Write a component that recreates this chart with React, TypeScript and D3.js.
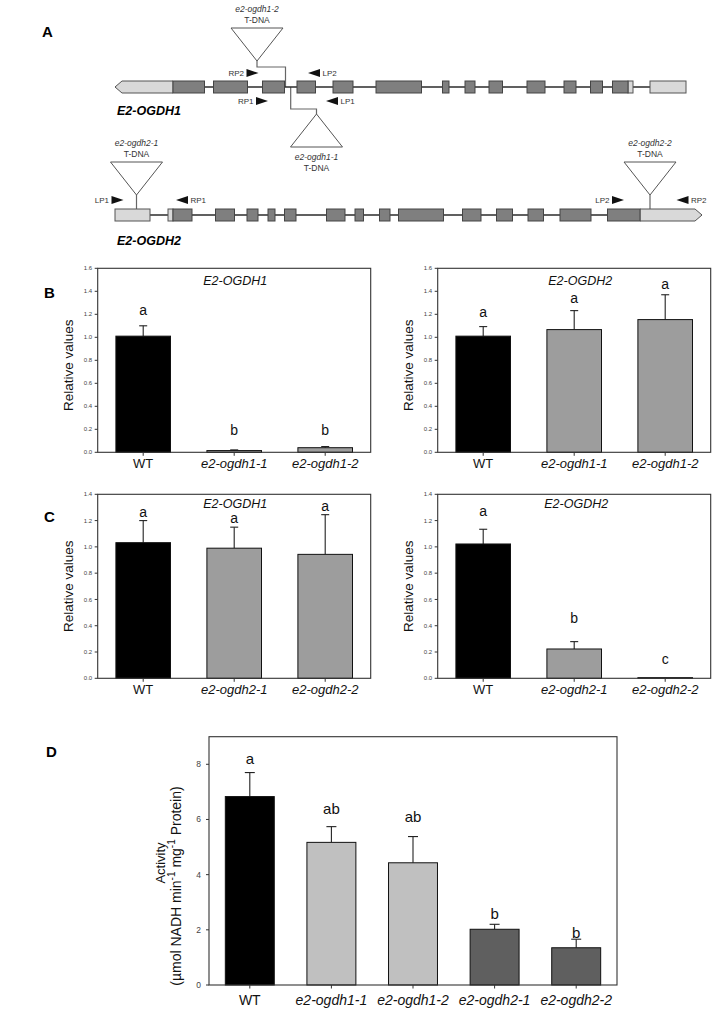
import * as d3 from 'd3'

const W = 726, H = 1019
const FONT = '"Liberation Sans", Arial, Helvetica, sans-serif'

// ---- panel A: gene models, positions in map units along the locus ----
const gene1Span = [15, 586]
const gene1Utr5 = [15, 73]            // drawn as left-pointing arrow
const gene1Exons = [[73, 104.5], [113.5, 147.5], [162.5, 184.5], [197, 215.5], [233, 253], [276, 321.5], [342.5, 349], [365, 375], [389, 402.5], [427, 445], [464, 476], [490.5, 502.5], [512.5, 528]]
const gene1Utr3 = [[528, 533], [550, 586]]
const gene2Span = [15, 602]
const gene2Utr5 = [[15, 50], [68, 73]]
const gene2Exons = [[73, 92], [115.5, 134.5], [147, 158], [168, 175], [184.5, 196], [226.5, 245], [255, 263.5], [279.5, 290], [298.5, 343.5], [362.5, 381], [396.5, 412.5], [428, 443.5], [460, 491], [507.5, 540]]
const gene2Utr3 = [540, 602]          // drawn as right-pointing arrow

const primerNames1 = ['RP2', 'LP2', 'RP1', 'LP1']
const primerPos1 = [152.5, 214, 162, 232]
const primerDir1 = [1, -1, 1, -1]
const primerRow1 = [-1, -1, 1, 1]
const primerNames2 = ['LP1', 'RP1', 'LP2', 'RP2']
const primerPos2 = [17.5, 82, 518, 582.5]
const primerDir2 = [1, -1, 1, -1]

const tdnaNames1 = ['e2-ogdh1-2', 'e2-ogdh1-1']
const tdnaSite1 = [185.5, 190.7]
const tdnaApex1 = [157, 216.5]
const tdnaNames2 = ['e2-ogdh2-1', 'e2-ogdh2-2']
const tdnaSite2 = [36.5, 550]

// ---- panels B/C: qRT-PCR ----
const catsB = ['WT', 'e2-ogdh1-1', 'e2-ogdh1-2']
const catsC = ['WT', 'e2-ogdh2-1', 'e2-ogdh2-2']
const bLeftMean = [1.01, 0.015, 0.04]
const bLeftErr = [0.09, 0.006, 0.01]
const bLeftLetters = ['a', 'b', 'b']
const bLeftLetterAt = [1.19, 0.15, 0.15]
const bRightMean = [1.01, 1.067, 1.154]
const bRightErr = [0.083, 0.165, 0.216]
const bRightLetters = ['a', 'a', 'a']
const bRightLetterAt = [1.18, 1.3, 1.42]
const cLeftMean = [1.032, 0.99, 0.943]
const cLeftErr = [0.168, 0.16, 0.302]
const cLeftLetters = ['a', 'a', 'a']
const cLeftLetterAt = [1.23, 1.184, 1.27]
const cRightMean = [1.022, 0.223, 0.005]
const cRightErr = [0.112, 0.056, 0]
const cRightLetters = ['a', 'b', 'c']
const cRightLetterAt = [1.235, 0.42, 0.11]
const ticksB = [0, 0.2, 0.4, 0.6, 0.8, 1.0, 1.2, 1.4, 1.6]
const ticksC = [0, 0.2, 0.4, 0.6, 0.8, 1.0, 1.2, 1.4]
const colorsBC = ['#000000', '#9d9d9d', '#9d9d9d']

// ---- panel D: enzyme activity ----
const catsD = ['WT', 'e2-ogdh1-1', 'e2-ogdh1-2', 'e2-ogdh2-1', 'e2-ogdh2-2']
const dMean = [6.83, 5.17, 4.43, 2.02, 1.35]
const dErr = [0.87, 0.57, 0.95, 0.18, 0.31]
const dLetters = ['a', 'ab', 'ab', 'b', 'b']
const dLetterAt = [8.0, 6.2, 5.9, 2.4, 1.72]
const ticksD = [0, 2, 4, 6, 8]
const colorsD = ['#000000', '#c0c0c0', '#c0c0c0', '#5f5f5f', '#5f5f5f']

const xg = d3.scaleLinear().domain([0, 600]).range([100, 700])

function Gene({ y, span, exons, utrBoxes, arrowUtr, arrowDir }: any) {
  const h = 6
  const [a, b] = arrowUtr
  const tip = 7
  const arrowPath = arrowDir < 0
    ? `M${xg(a)},${y} L${xg(a) + tip},${y - h} L${xg(b)},${y - h} L${xg(b)},${y + h} L${xg(a) + tip},${y + h} Z`
    : `M${xg(a)},${y - h} L${xg(b) - tip},${y - h} L${xg(b)},${y} L${xg(b) - tip},${y + h} L${xg(a)},${y + h} Z`
  return (
    <g>
      <line x1={xg(span[0])} x2={xg(span[1])} y1={y} y2={y} stroke="#2b2b2b" strokeWidth={1.4} />
      <path d={arrowPath} fill="#d9d9d9" stroke="#555" strokeWidth={1} />
      {utrBoxes.map((e: number[], i: number) => (
        <rect key={'u' + i} x={xg(e[0])} y={y - h} width={xg(e[1]) - xg(e[0])} height={2 * h} fill="#d9d9d9" stroke="#555" strokeWidth={1} />
      ))}
      {exons.map((e: number[], i: number) => (
        <rect key={i} x={xg(e[0])} y={y - h} width={xg(e[1]) - xg(e[0])} height={2 * h} fill="#7f7f7f" stroke="#444" strokeWidth={1} />
      ))}
    </g>
  )
}

function Primer({ name, pos, dir, y }: any) {
  const cx = xg(pos)
  const path = dir > 0
    ? `M${cx - 6},${y - 4} L${cx + 6},${y} L${cx - 6},${y + 4} Z`
    : `M${cx + 6},${y - 4} L${cx - 6},${y} L${cx + 6},${y + 4} Z`
  return (
    <g>
      <path d={path} fill="#111" />
      <text x={dir > 0 ? cx - 8.5 : cx + 8.5} y={y + 3} textAnchor={dir > 0 ? 'end' : 'start'}
        fontSize={8} fill="#333" fontFamily={FONT}>{name}</text>
    </g>
  )
}

function Tdna({ name, apexX, apexY, up }: any) {
  const hw = 26, th = 33
  const baseY = up ? apexY + th : apexY - th
  const labelY = up ? baseY + 13 : baseY - 16
  return (
    <g>
      <path d={`M${apexX},${apexY} L${apexX - hw},${baseY} L${apexX + hw},${baseY} Z`} fill="#fff" stroke="#555" strokeWidth={1} />
      <text x={apexX} y={labelY} textAnchor="middle" fontSize={8.5} fontStyle="italic" fill="#333" fontFamily={FONT}>{name}</text>
      <text x={apexX} y={labelY + 11} textAnchor="middle" fontSize={8.5} fill="#333" fontFamily={FONT}>T-DNA</text>
    </g>
  )
}

function PanelA() {
  const y1 = 87, y2 = 215
  const conn = '#666'
  return (
    <g>
      <text x={42} y={37} fontSize={15} fontWeight="bold" fontFamily={FONT}>A</text>
      {/* upper insertion of gene 1 */}
      <Tdna name={tdnaNames1[0]} apexX={xg(tdnaApex1[0])} apexY={61} up={false} />
      <path d={`M${xg(tdnaApex1[0])},61 V67 H${xg(tdnaSite1[0])} V${y1}`} fill="none" stroke={conn} strokeWidth={1.2} />
      {/* lower insertion of gene 1 */}
      <path d={`M${xg(tdnaSite1[1])},${y1} V109 H${xg(tdnaApex1[1])} V114`} fill="none" stroke={conn} strokeWidth={1.2} />
      <Tdna name={tdnaNames1[1]} apexX={xg(tdnaApex1[1])} apexY={114} up={true} />
      <Gene y={y1} span={gene1Span} exons={gene1Exons} utrBoxes={gene1Utr3} arrowUtr={gene1Utr5} arrowDir={-1} />
      {primerNames1.map((n, i) => (
        <Primer key={n} name={n} pos={primerPos1[i]} dir={primerDir1[i]} y={primerRow1[i] < 0 ? 73 : 101} />
      ))}
      <text x={117} y={115} fontSize={12.5} fontWeight="bold" fontStyle="italic" fontFamily={FONT}>E2-OGDH1</text>

      {tdnaNames2.map((n, i) => (
        <g key={n}>
          <line x1={xg(tdnaSite2[i])} x2={xg(tdnaSite2[i])} y1={195} y2={y2 - 6} stroke={conn} strokeWidth={1.2} />
          <Tdna name={n} apexX={xg(tdnaSite2[i])} apexY={195} up={false} />
        </g>
      ))}
      <Gene y={y2} span={gene2Span} exons={gene2Exons} utrBoxes={gene2Utr5} arrowUtr={gene2Utr3} arrowDir={1} />
      {primerNames2.map((n, i) => (
        <Primer key={n + i} name={n} pos={primerPos2[i]} dir={primerDir2[i]} y={200} />
      ))}
      <text x={117} y={245} fontSize={12.5} fontWeight="bold" fontStyle="italic" fontFamily={FONT}>E2-OGDH2</text>
    </g>
  )
}

function BarPanel(p: any) {
  const x = d3.scaleBand().domain(p.cats).range([p.x0, p.x1]).paddingInner(0.4).paddingOuter(0.2)
  const y = d3.scaleLinear().domain([0, p.max]).range([p.yZero, p.yTop])
  const bw = x.bandwidth()
  const fs = p.fontSize
  return (
    <g fontFamily={FONT}>
      {p.cats.map((c: string, i: number) => {
        const cx = (x(c) as number) + bw / 2
        const top = y(p.mean[i])
        const etop = y(p.mean[i] + p.err[i])
        return (
          <g key={c}>
            {p.err[i] > 0 && (
              <g stroke="#222" strokeWidth={1.1}>
                <line x1={cx} x2={cx} y1={top} y2={etop} />
                <line x1={cx - p.cap / 2} x2={cx + p.cap / 2} y1={etop} y2={etop} />
              </g>
            )}
            <rect x={x(c)} y={top} width={bw} height={p.yZero - top} fill={p.colors[i]} stroke="#111" strokeWidth={1} />
            <text x={cx} y={y(p.letterAt[i])} textAnchor="middle" fontSize={p.letterSize} fill="#111">{p.letters[i]}</text>
            <line x1={cx} x2={cx} y1={p.yZero} y2={p.yZero + 3.5} stroke="#333" />
            <text x={cx} y={p.yZero + p.labelDy} textAnchor="middle" fontSize={fs}
              fontStyle={c === 'WT' ? 'normal' : 'italic'} fill="#111">{c}</text>
          </g>
        )
      })}
      <rect x={p.x0} y={p.yTop} width={p.x1 - p.x0} height={p.yZero - p.yTop} fill="none" stroke="#333" strokeWidth={1.1} />
      {p.ticks.map((t: number) => (
        <g key={t}>
          <line x1={p.x0 - 3} x2={p.x0} y1={y(t)} y2={y(t)} stroke="#333" />
          <text x={p.x0 - p.tickGap} y={y(t) + p.tickSize * 0.35} textAnchor="end" fontSize={p.tickSize} fill="#444">
            {d3.format(p.tickFmt)(t)}
          </text>
        </g>
      ))}
      {p.title && (
        <text x={(p.x0 + p.x1) / 2 + p.titleDx} y={p.yTop + p.titleDy} textAnchor="middle" fontSize={12.5} fontStyle="italic" fill="#111">{p.title}</text>
      )}
      {p.yTitle && (
        <text transform={`translate(${p.yTitleX},${(p.yTop + p.yZero) / 2 + p.yTitleDy}) rotate(-90)`} textAnchor="middle" fontSize={13.5} fill="#111">{p.yTitle}</text>
      )}
    </g>
  )
}

export default function App() {
  const common = { fontSize: 13, letterSize: 14, cap: 8, labelDy: 16, tickSize: 6, tickGap: 5.5, tickFmt: '.1f' }
  return (
    <svg width={W} height={H} viewBox={`0 0 ${W} ${H}`} style={{ position: 'absolute', left: 0, top: 0, background: '#fff' }}>
      <rect width={W} height={H} fill="#fff" />
      <PanelA />

      <text x={44} y={298} fontSize={15} fontWeight="bold" fontFamily={FONT}>B</text>
      <BarPanel {...common} cats={catsB} mean={bLeftMean} err={bLeftErr} letters={bLeftLetters} letterAt={bLeftLetterAt}
        colors={colorsBC} x0={97.7} x1={370.7} yTop={268.3} yZero={452.3} max={1.6} ticks={ticksB}
        title="E2-OGDH1" titleDx={1} titleDy={16.5} yTitle="Relative values" yTitleX={73} yTitleDy={5} />
      <BarPanel {...common} cats={catsB} mean={bRightMean} err={bRightErr} letters={bRightLetters} letterAt={bRightLetterAt}
        colors={colorsBC} x0={437.7} x1={710.7} yTop={268.3} yZero={452.3} max={1.6} ticks={ticksB}
        title="E2-OGDH2" titleDx={6} titleDy={16.5} yTitle="Relative values" yTitleX={412.5} yTitleDy={5} />

      <text x={44} y={522} fontSize={15} fontWeight="bold" fontFamily={FONT}>C</text>
      <BarPanel {...common} cats={catsC} mean={cLeftMean} err={cLeftErr} letters={cLeftLetters} letterAt={cLeftLetterAt}
        colors={colorsBC} x0={97.7} x1={370.7} yTop={494.3} yZero={678.3} max={1.4} ticks={ticksC}
        title="E2-OGDH1" titleDx={1} titleDy={14} yTitle="Relative values" yTitleX={73} yTitleDy={0} />
      <BarPanel {...common} cats={catsC} mean={cRightMean} err={cRightErr} letters={cRightLetters} letterAt={cRightLetterAt}
        colors={colorsBC} x0={437.7} x1={710.7} yTop={494.3} yZero={678.3} max={1.4} ticks={ticksC}
        title="E2-OGDH2" titleDx={2} titleDy={14} yTitle="Relative values" yTitleX={412.5} yTitleDy={0} />

      <text x={46} y={757} fontSize={15} fontWeight="bold" fontFamily={FONT}>D</text>
      <BarPanel fontSize={14} letterSize={15} cap={10} labelDy={20} tickSize={8.5} tickGap={8} tickFmt="d"
        cats={catsD} mean={dMean} err={dErr} letters={dLetters} letterAt={dLetterAt}
        colors={colorsD} x0={209} x1={617} yTop={736.7} yZero={985} max={9} ticks={ticksD} />
      <g fontFamily={FONT} fill="#111" fontSize={13}>
        <text transform="translate(164.5,863) rotate(-90)" textAnchor="middle">Activity</text>
        <text transform="translate(181,886) rotate(-90)" textAnchor="middle" fontSize={14}>
          (µmol NADH min<tspan dy={-6} fontSize={10}>-1</tspan><tspan dy={6}> mg</tspan><tspan dy={-6} fontSize={10}>-1</tspan><tspan dy={6}> Protein)</tspan>
        </text>
      </g>
    </svg>
  )
}
